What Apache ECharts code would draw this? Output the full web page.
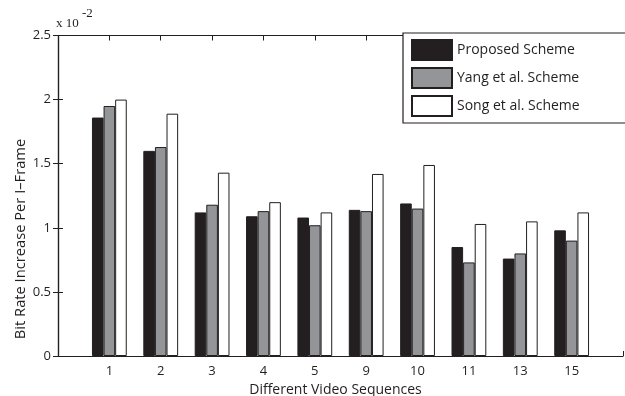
<!DOCTYPE html>
<html>
<head>
<meta charset="utf-8">
<script src="https://cdn.jsdelivr.net/npm/echarts@6/dist/echarts.min.js"></script>
<style>
html,body{margin:0;padding:0;background:#fff;}
#chart{width:625px;height:396px;}
</style>
</head>
<body>
<div id="chart"></div>
<script>
// Data (values shown in units of 10^-2)
var categories = ['1', '2', '3', '4', '5', '9', '10', '11', '13', '15'];
var proposed = [1.86, 1.60, 1.12, 1.09, 1.08, 1.14, 1.19, 0.85, 0.76, 0.98];
var yang     = [1.95, 1.63, 1.18, 1.13, 1.02, 1.13, 1.15, 0.73, 0.80, 0.90];
var song     = [2.00, 1.89, 1.43, 1.20, 1.12, 1.42, 1.49, 1.03, 1.05, 1.12];
var seriesNames = ['Proposed Scheme', 'Yang et al. Scheme', 'Song et al. Scheme'];
var yTicks = [0, 0.5, 1, 1.5, 2, 2.5];

var FONT = '"Open Sans", sans-serif';
var INK = '#231f20';

function pairs(vals) {
  return vals.map(function (v, i) { return [i + 1, v]; });
}

var chart = echarts.init(document.getElementById('chart'), null, {renderer: 'canvas'});

function barSeries(name, vals, color) {
  return {
    name: name,
    type: 'bar',
    data: pairs(vals),
    barWidth: 11.6,
    barGap: '0%',
    itemStyle: {color: color, borderColor: INK, borderWidth: 1},
    emphasis: {disabled: true},
    animation: false
  };
}

var axisCommon = {
  type: 'value', min: 0, max: 11, interval: 1,
  axisLine: {show: true, onZero: false, lineStyle: {color: INK, width: 1.2}},
  axisTick: {show: true, inside: true, length: 5, lineStyle: {color: INK}},
  splitLine: {show: false}
};

chart.setOption({
  animation: false,
  backgroundColor: '#fff',
  grid: {left: 58, right: 2, top: 35.5, bottom: 40, containLabel: false, outerBoundsMode: 'none'},
  legend: {
    data: seriesNames,
    left: 403, top: 33,
    orient: 'vertical',
    itemWidth: 40, itemHeight: 20, itemGap: 6,
    padding: [6, 47, 6, 8],
    backgroundColor: '#fff',
    borderColor: INK, borderWidth: 1.2,
    icon: 'rect',
    textStyle: {fontFamily: FONT, fontSize: 14, color: INK, padding: [0, 0, 0, 0]},
    selectedMode: false
  },
  xAxis: [
    Object.assign({}, axisCommon, {
      position: 'bottom',
      axisLabel: {
        show: true, margin: 9, fontFamily: FONT, fontSize: 13, color: INK,
        formatter: function (v) { return (v >= 1 && v <= categories.length) ? categories[v - 1] : ''; }
      },
      name: 'Different Video Sequences', nameLocation: 'middle', nameGap: 26,
      nameTextStyle: {fontFamily: FONT, fontSize: 14, color: INK, padding: [0, 10, 0, 0]}
    }),
    Object.assign({}, axisCommon, {position: 'top', axisLabel: {show: false}})
  ],
  yAxis: [
    {
      type: 'value', min: yTicks[0], max: yTicks[yTicks.length - 1], interval: 0.5,
      position: 'left',
      axisLine: {show: true, lineStyle: {color: INK, width: 1.2}},
      axisTick: {show: true, inside: true, length: 5, lineStyle: {color: INK}},
      axisLabel: {margin: 7, fontFamily: FONT, fontSize: 13, color: INK},
      splitLine: {show: false}
    },
    {
      type: 'value', min: yTicks[0], max: yTicks[yTicks.length - 1], interval: 0.5,
      position: 'right',
      axisLine: {show: true, lineStyle: {color: INK, width: 1.2}},
      axisTick: {show: true, inside: true, length: 5, lineStyle: {color: INK}},
      axisLabel: {show: false},
      splitLine: {show: false}
    }
  ],
  graphic: [
    {type: 'text', left: 56, top: 17, style: {text: 'x 10', font: '13px "Liberation Serif", serif', fill: INK}},
    {type: 'text', left: 82, top: 7, style: {text: '-2', font: '13px "Liberation Serif", serif', fill: INK}},
    {type: 'text', x: 21, y: 239, rotation: Math.PI / 2,
      style: {text: 'Bit Rate Increase Per I\u2013Frame', font: '14.7px "Open Sans", sans-serif', fill: INK,
        align: 'center', verticalAlign: 'middle'}}
  ],
  series: [
    barSeries(seriesNames[0], proposed, INK),
    barSeries(seriesNames[1], yang, '#939598'),
    barSeries(seriesNames[2], song, '#ffffff')
  ]
});
</script>
</body>
</html>
